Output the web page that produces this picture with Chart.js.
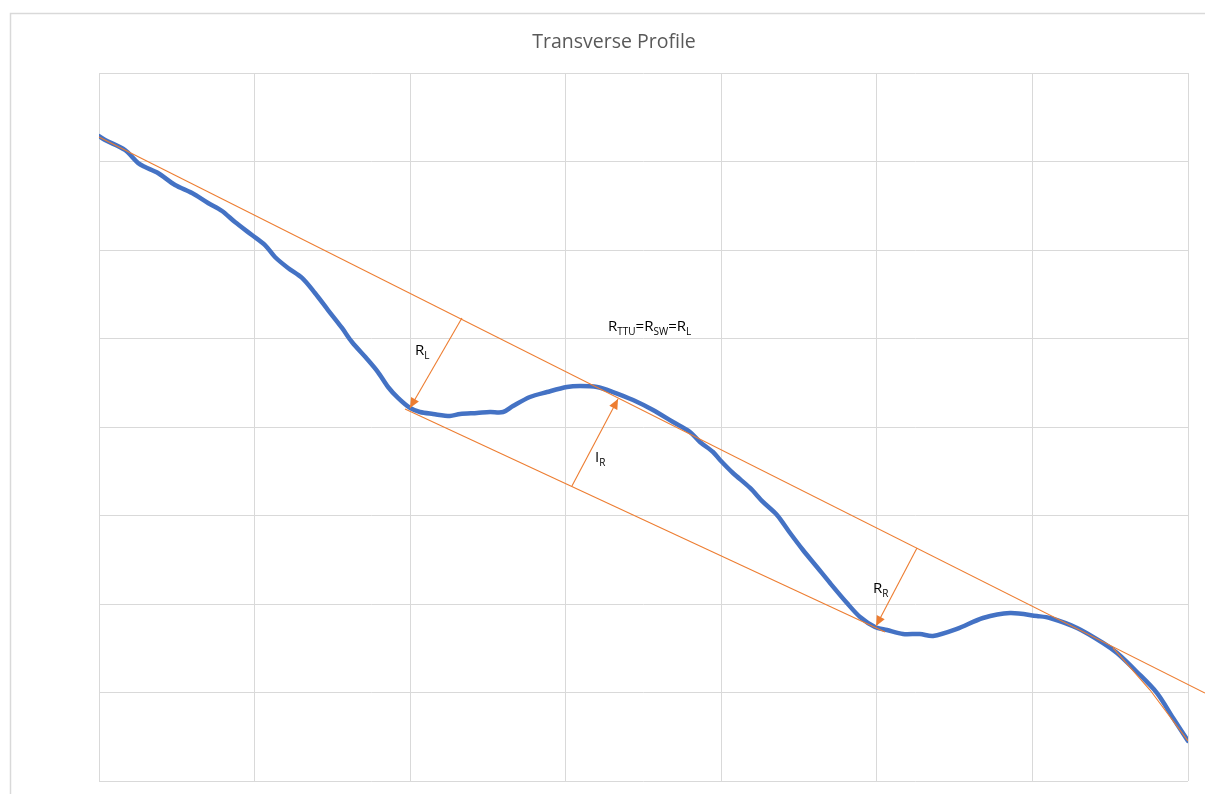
<!DOCTYPE html>
<html>
<head>
<meta charset="utf-8">
<title>Transverse Profile</title>
<script src="https://cdn.jsdelivr.net/npm/chart.js@4.4.1/dist/chart.umd.min.js"></script>
<style>
  html, body { margin: 0; padding: 0; background: #ffffff; overflow: hidden; }
  canvas { display: block; }
</style>
</head>
<body>
<canvas id="profile" width="1205" height="794"></canvas>
<script>
// Measured transverse surface profile (offset across the section, elevation)
const profileX = [0, 0.039, 0.167, 0.251, 0.296, 0.379, 0.489, 0.598, 0.701, 0.791, 0.874, 0.983,
  1.067, 1.131, 1.215, 1.305, 1.388, 1.472, 1.562, 1.626, 1.729, 1.793, 1.858, 1.922, 1.999,
  2.063, 2.147, 2.256, 2.321, 2.430, 2.513, 2.597, 2.661, 2.770, 2.880, 3.008, 3.092, 3.201,
  3.304, 3.433, 3.561, 3.690, 3.799, 3.863, 3.947, 3.992, 4.075, 4.185, 4.268, 4.358, 4.442,
  4.525, 4.615, 4.699, 4.808, 4.892, 4.988, 5.065, 5.168, 5.277, 5.361, 5.515, 5.682, 5.856,
  6.029, 6.113, 6.287, 6.454, 6.544, 6.672, 6.801, 6.904, 7.0];
const profileY = [7.288, 7.243, 7.130, 6.983, 6.938, 6.870, 6.734, 6.644, 6.531, 6.441, 6.316, 6.169,
  6.056, 5.921, 5.797, 5.684, 5.514, 5.322, 5.119, 4.960, 4.757, 4.621, 4.452, 4.328, 4.215,
  4.169, 4.147, 4.124, 4.147, 4.158, 4.169, 4.169, 4.237, 4.339, 4.395, 4.452, 4.463, 4.452,
  4.395, 4.305, 4.192, 4.056, 3.944, 3.831, 3.718, 3.627, 3.480, 3.311, 3.153, 3.006, 2.802,
  2.610, 2.418, 2.237, 2.011, 1.853, 1.740, 1.706, 1.661, 1.661, 1.638, 1.718, 1.842, 1.898,
  1.864, 1.842, 1.729, 1.559, 1.446, 1.232, 0.994, 0.712, 0.452];

// Upper straight edge resting on the crests
const upperEdgeX = [0, 7.109];
const upperEdgeY = [7.277, 0.994];
// Lower straight edge spanning the two troughs
const lowerEdgeX = [1.967, 5.052];
const lowerEdgeY = [4.203, 1.684];
// Edge segment along the falling right shoulder
const shoulderX = [6.518, 6.756, 7.0];
const shoulderY = [1.503, 1.028, 0.452];

// Measurement arrows: [start, tip]
const arrowRLX = [2.333, 1.999];
const arrowRLY = [5.232, 4.215];
const arrowIRX = [3.040, 3.336];
const arrowIRY = [3.333, 4.316];
const arrowRRX = [5.258, 4.995];
const arrowRRY = [2.633, 1.751];

// Annotation texts (main / subscript runs) and their anchors in data units
const noteRL = [{ t: 'R' }, { t: 'L', sub: true }];
const noteRule = [{ t: 'R' }, { t: 'TTU', sub: true }, { t: '=R' }, { t: 'SW', sub: true }, { t: '=R' }, { t: 'L', sub: true }];
const noteIR = [{ t: 'I' }, { t: 'R', sub: true }];
const noteRR = [{ t: 'R' }, { t: 'R', sub: true }];
const notes = [
  { x: 2.031, y: 4.814, runs: noteRL },
  { x: 3.272, y: 5.085, runs: noteRule },
  { x: 3.188, y: 3.605, runs: noteIR },
  { x: 4.975, y: 2.124, runs: noteRR }
];

const chartTitle = 'Transverse Profile';

const BLUE = '#4472C4';
const ORANGE = '#ED7D31';
const GRID = '#d9d9d9';

const toPoints = (xs, ys) => xs.map((x, i) => ({ x: x, y: ys[i] }));

function edgeDataset(xs, ys, extra) {
  return Object.assign({
    data: toPoints(xs, ys),
    borderColor: ORANGE,
    borderWidth: 1.1,
    pointRadius: 0,
    showLine: true,
    fill: false,
    tension: 0,
    order: 0
  }, extra || {});
}

// Filled arrowheads at the last point of flagged datasets
const arrowHeads = {
  id: 'arrowHeads',
  afterDatasetsDraw(chart) {
    const ctx = chart.ctx;
    chart.data.datasets.forEach((ds, i) => {
      if (!ds.arrow) return;
      const pts = chart.getDatasetMeta(i).data;
      const a = pts[pts.length - 2], b = pts[pts.length - 1];
      const ang = Math.atan2(b.y - a.y, b.x - a.x);
      const len = 10, half = 4.5;
      ctx.save();
      ctx.fillStyle = ORANGE;
      ctx.beginPath();
      ctx.moveTo(b.x, b.y);
      ctx.lineTo(b.x - len * Math.cos(ang) + half * Math.sin(ang), b.y - len * Math.sin(ang) - half * Math.cos(ang));
      ctx.lineTo(b.x - len * Math.cos(ang) - half * Math.sin(ang), b.y - len * Math.sin(ang) + half * Math.cos(ang));
      ctx.closePath();
      ctx.fill();
      ctx.restore();
    });
  }
};

// Text notes with subscripts
const subNotes = {
  id: 'subNotes',
  afterDraw(chart) {
    const ctx = chart.ctx;
    const xs = chart.scales.x, ys = chart.scales.y;
    ctx.save();
    ctx.fillStyle = '#000000';
    ctx.textBaseline = 'alphabetic';
    notes.forEach(n => {
      let px = xs.getPixelForValue(n.x);
      const py = ys.getPixelForValue(n.y);
      n.runs.forEach(r => {
        ctx.font = r.sub ? '10px "Open Sans", sans-serif' : '15px "Open Sans", sans-serif';
        ctx.fillText(r.t, px, r.sub ? py + 4 : py);
        px += ctx.measureText(r.t).width;
      });
    });
    ctx.restore();
  }
};

// Outer frame and heading of the chart
const frameAndHeading = {
  id: 'frameAndHeading',
  beforeDraw(chart) {
    const ctx = chart.ctx;
    ctx.save();
    ctx.fillStyle = '#ffffff';
    ctx.fillRect(0, 0, chart.width, chart.height);
    ctx.strokeStyle = GRID;
    ctx.lineWidth = 1.5;
    ctx.strokeRect(10.5, 13.5, 1400, 1000);
    ctx.fillStyle = '#595959';
    ctx.font = '19.5px "Open Sans", sans-serif';
    ctx.textAlign = 'center';
    ctx.textBaseline = 'alphabetic';
    ctx.fillText(chartTitle, 614, 48);
    ctx.restore();
  }
};

new Chart(document.getElementById('profile'), {
  type: 'scatter',
  data: {
    datasets: [
      edgeDataset(upperEdgeX, upperEdgeY, { clip: false }),
      edgeDataset(lowerEdgeX, lowerEdgeY),
      edgeDataset(shoulderX, shoulderY),
      edgeDataset(arrowRLX, arrowRLY, { arrow: true }),
      edgeDataset(arrowIRX, arrowIRY, { arrow: true }),
      edgeDataset(arrowRRX, arrowRRY, { arrow: true }),
      {
        data: toPoints(profileX, profileY),
        borderColor: BLUE,
        borderWidth: 4.5,
        pointRadius: 0,
        showLine: true,
        fill: false,
        tension: 0.3,
        borderJoinStyle: 'round',
        borderCapStyle: 'round',
        order: 1
      }
    ]
  },
  options: {
    responsive: false,
    devicePixelRatio: 1,
    animation: false,
    events: [],
    layout: { padding: { left: 99, right: 17, top: 73, bottom: 13 } },
    plugins: {
      legend: { display: false },
      tooltip: { enabled: false },
      title: { display: false }
    },
    scales: {
      x: {
        type: 'linear',
        min: 0,
        max: 7,
        ticks: { display: false, stepSize: 1 },
        grid: { color: GRID, lineWidth: 1, drawTicks: false },
        border: { display: false }
      },
      y: {
        type: 'linear',
        min: 0,
        max: 8,
        ticks: { display: false, stepSize: 1 },
        grid: { color: GRID, lineWidth: 1, drawTicks: false },
        border: { display: false }
      }
    }
  },
  plugins: [frameAndHeading, arrowHeads, subNotes]
});
</script>
</body>
</html>
